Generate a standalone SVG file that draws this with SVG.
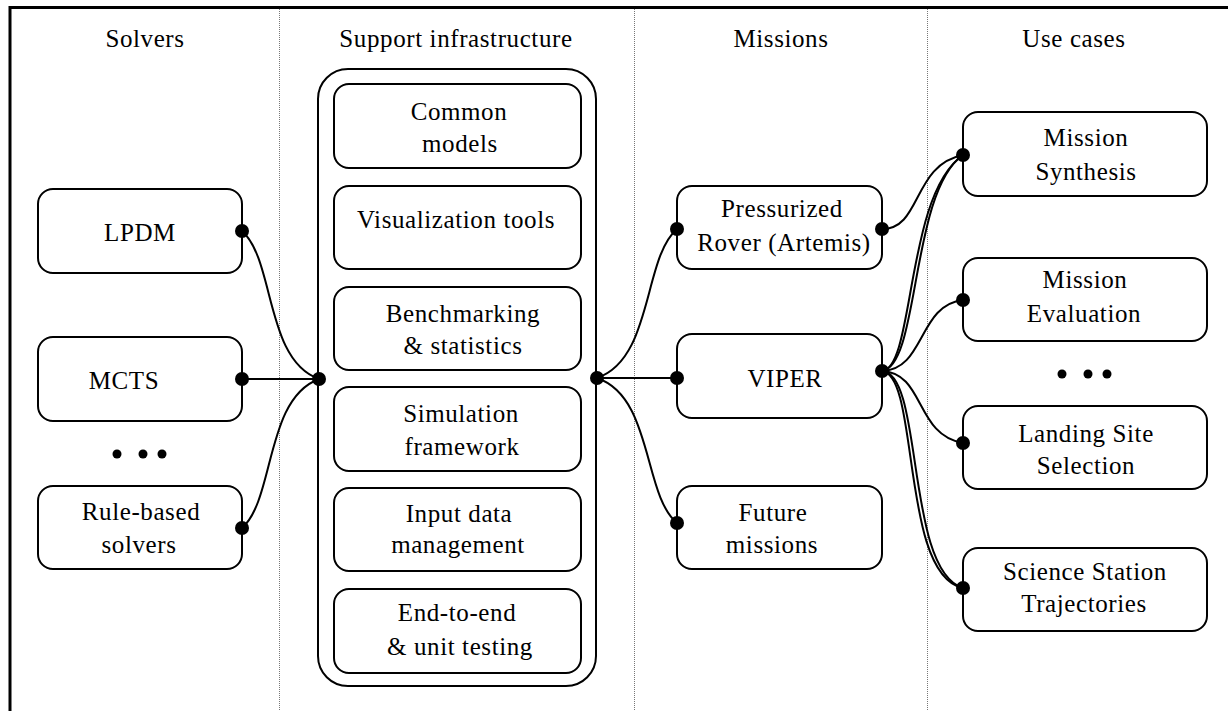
<svg xmlns="http://www.w3.org/2000/svg" width="1228" height="711" viewBox="0 0 1228 711">
<style>
.frame{fill:none;stroke:#000;stroke-width:3}
.sep{stroke:#777;stroke-width:1;stroke-dasharray:1 1}
.box{fill:#fff;stroke:#000;stroke-width:2}
.lbl{font-family:"Liberation Serif","Times New Roman",serif;font-size:25px;letter-spacing:0.6px;fill:#000;text-anchor:middle}
.edge{fill:none;stroke:#000;stroke-width:2}
.dot{fill:#000}
</style>
<rect width="1228" height="711" fill="#fff"/>
<g id="frame">
<path class="frame" d="M10,711 V7.5 H1228"/>
<line class="sep" x1="279.5" y1="9" x2="279.5" y2="711"/>
<line class="sep" x1="634.5" y1="9" x2="634.5" y2="711"/>
<line class="sep" x1="927.5" y1="9" x2="927.5" y2="711"/>
</g>
<g id="headers">
<text class="lbl" x="145" y="47">Solvers</text>
<text class="lbl" x="456" y="47">Support infrastructure</text>
<text class="lbl" x="781" y="47">Missions</text>
<text class="lbl" x="1074" y="47">Use cases</text>
</g>
<g id="lpdm"><rect class="box" x="38" y="189" width="204" height="84" rx="15"/><text class="lbl" x="140" y="241">LPDM</text></g>
<g id="mcts"><rect class="box" x="38" y="337" width="204" height="84" rx="15"/><text class="lbl" x="124" y="389">MCTS</text></g>
<g id="solvers-more"><circle class="dot" cx="117" cy="454" r="4.5"/><circle class="dot" cx="143" cy="454" r="4.5"/><circle class="dot" cx="162" cy="454" r="4.5"/></g>
<g id="rule-based"><rect class="box" x="38" y="486" width="204" height="83" rx="15"/><text class="lbl" x="141" y="520">Rule-based</text><text class="lbl" x="139" y="553">solvers</text></g>
<g id="support">
<rect class="box" x="318" y="69" width="278" height="617" rx="30"/>
</g>
<g id="common-models"><rect class="box" x="334" y="84" width="247" height="84" rx="15"/><text class="lbl" x="459" y="120">Common</text><text class="lbl" x="460" y="152">models</text></g>
<g id="visualization"><rect class="box" x="334" y="186" width="247" height="83" rx="15"/><text class="lbl" x="456" y="228">Visualization tools</text></g>
<g id="benchmarking"><rect class="box" x="334" y="287" width="247" height="83" rx="15"/><text class="lbl" x="463" y="322">Benchmarking</text><text class="lbl" x="463" y="354">&amp; statistics</text></g>
<g id="simulation"><rect class="box" x="334" y="387" width="247" height="84" rx="15"/><text class="lbl" x="461" y="422">Simulation</text><text class="lbl" x="462" y="455">framework</text></g>
<g id="input-data"><rect class="box" x="334" y="488" width="247" height="83" rx="15"/><text class="lbl" x="459" y="522">Input data</text><text class="lbl" x="458" y="553">management</text></g>
<g id="testing"><rect class="box" x="334" y="589" width="247" height="84" rx="15"/><text class="lbl" x="457" y="621">End-to-end</text><text class="lbl" x="460" y="655">&amp; unit testing</text></g>
<g id="pressurized-rover"><rect class="box" x="677" y="186" width="205" height="83" rx="15"/><text class="lbl" x="782" y="217">Pressurized</text><text class="lbl" x="784" y="251">Rover (Artemis)</text></g>
<g id="viper"><rect class="box" x="677" y="334" width="205" height="84" rx="15"/><text class="lbl" x="785" y="387">VIPER</text></g>
<g id="future-missions"><rect class="box" x="677" y="486" width="205" height="83" rx="15"/><text class="lbl" x="773" y="521">Future</text><text class="lbl" x="772" y="553">missions</text></g>
<g id="mission-synthesis"><rect class="box" x="963" y="112" width="244" height="84" rx="15"/><text class="lbl" x="1086" y="146">Mission</text><text class="lbl" x="1086" y="180">Synthesis</text></g>
<g id="mission-evaluation"><rect class="box" x="963" y="258" width="244" height="83" rx="15"/><text class="lbl" x="1085" y="288">Mission</text><text class="lbl" x="1084" y="322">Evaluation</text></g>
<g id="usecases-more"><circle class="dot" cx="1062" cy="374" r="4.5"/><circle class="dot" cx="1088" cy="374" r="4.5"/><circle class="dot" cx="1107" cy="374" r="4.5"/></g>
<g id="landing-site"><rect class="box" x="963" y="406" width="244" height="83" rx="15"/><text class="lbl" x="1086" y="442">Landing Site</text><text class="lbl" x="1086" y="474">Selection</text></g>
<g id="science-station"><rect class="box" x="963" y="548" width="244" height="83" rx="15"/><text class="lbl" x="1085" y="580">Science Station</text><text class="lbl" x="1084" y="612">Trajectories</text></g>
<g id="connectors">
<path class="edge" d="M242,231 C275,260 265,360 319,379"/>
<path class="edge" d="M242,379 H319"/>
<path class="edge" d="M242,528 C275,499 265,399 319,379"/>
<path class="edge" d="M677,229 C643,258 653,359 597,378"/>
<path class="edge" d="M597,378 H677"/>
<path class="edge" d="M677,523 C643,495 653,397 597,378"/>
<path class="edge" d="M882,229 C922,229 912,165 963,155"/>
<path class="edge" d="M882,371 C915,368 905,195 963,155"/>
<path class="edge" d="M882,371 C920,366 910,192 963,155"/>
<path class="edge" d="M882,371 C925,370 918,305 963,300"/>
<path class="edge" d="M882,371 C925,373 915,435 963,443"/>
<path class="edge" d="M882,371 C920,375 900,575 963,588"/>
<path class="edge" d="M882,371 C924,373 905,570 963,588"/>
<circle class="dot" cx="242" cy="231" r="7"/>
<circle class="dot" cx="242" cy="379" r="7"/>
<circle class="dot" cx="242" cy="528" r="7"/>
<circle class="dot" cx="319" cy="379" r="7"/>
<circle class="dot" cx="597" cy="378" r="7"/>
<circle class="dot" cx="677" cy="229" r="7"/>
<circle class="dot" cx="677" cy="378" r="7"/>
<circle class="dot" cx="677" cy="523" r="7"/>
<circle class="dot" cx="882" cy="229" r="7"/>
<circle class="dot" cx="882" cy="371" r="7"/>
<circle class="dot" cx="963" cy="155" r="7"/>
<circle class="dot" cx="963" cy="300" r="7"/>
<circle class="dot" cx="963" cy="443" r="7"/>
<circle class="dot" cx="963" cy="588" r="7"/>
</g>
</svg>
